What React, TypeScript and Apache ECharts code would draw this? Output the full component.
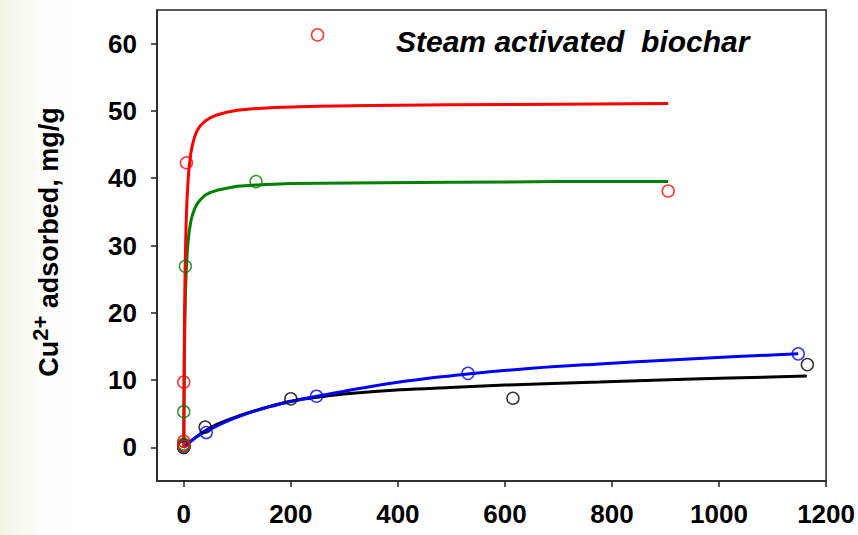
import React, { useEffect, useRef } from "react";
import * as echarts from "echarts";

// Axis ticks
const xTicks = [0, 200, 400, 600, 800, 1000, 1200];
const yTicks = [0, 10, 20, 30, 40, 50, 60];

// Observed data (circles)
const redPointsX = [0, 0, 0, 5, 250, 905];
const redPointsY = [0.2, 0.9, 9.7, 42.3, 61.3, 38.1];
const greenPointsX = [0, 0, 0, 3, 135];
const greenPointsY = [0.1, 0.5, 5.3, 26.9, 39.5];
const blackPointsX = [0, 0, 40, 200, 615, 1165];
const blackPointsY = [0, 0.3, 3.0, 7.2, 7.3, 12.3];
const bluePointsX = [0, 42, 248, 531, 1148];
const bluePointsY = [0, 2.2, 7.6, 11.0, 13.9];

// Fitted curves
const redFitX = [0, 0.5, 1, 1.5, 2, 3, 4, 5, 6, 8, 10, 13, 16, 20, 25, 31, 40, 50, 62, 80, 100, 124, 170, 250, 350, 500, 700, 905];
const redFitY = [0, 8.8, 15.1, 19.7, 23.3, 28.5, 32.1, 34.7, 36.7, 39.6, 41.6, 43.6, 44.9, 46.1, 47.1, 47.8, 48.5, 49.0, 49.4, 49.8, 50.1, 50.3, 50.5, 50.7, 50.8, 50.9, 51.0, 51.1];
const greenFitX = [0, 0.5, 1, 1.5, 2, 3, 4, 5, 6, 8, 10, 13, 16, 20, 25, 31, 40, 50, 62, 80, 100, 135, 200, 310, 500, 700, 905];
const greenFitY = [0, 6.8, 11.7, 15.3, 18.0, 22.1, 24.8, 26.8, 28.4, 30.5, 32.0, 33.5, 34.5, 35.4, 36.2, 36.8, 37.5, 37.9, 38.2, 38.5, 38.8, 39.0, 39.2, 39.3, 39.4, 39.5, 39.5];
const blackFitX = [0, 15, 31, 62, 100, 150, 200, 260, 310, 404, 497, 600, 776, 950, 1164];
const blackFitY = [0, 1.05, 2.0, 3.4, 4.6, 5.85, 6.85, 7.55, 8.0, 8.55, 8.9, 9.25, 9.7, 10.15, 10.6];
const blueFitX = [0, 15, 31, 62, 100, 150, 200, 248, 300, 350, 403, 450, 531, 650, 776, 900, 1024, 1148];
const blueFitY = [0, 1.0, 1.9, 3.2, 4.5, 5.8, 6.8, 7.6, 8.35, 9.05, 9.7, 10.2, 10.9, 11.75, 12.4, 12.95, 13.45, 13.9];

const zip = (xs: number[], ys: number[]) => xs.map((x, i) => [x, ys[i]]);

const FONT = "'Liberation Sans', Arial, Helvetica, sans-serif";

export default function App() {
  const ref = useRef<HTMLDivElement>(null);
  useEffect(() => {
    document.body.style.margin = "0";
    const chart = echarts.init(ref.current!, undefined, { renderer: "svg" });
    const lineS = (name: string, color: string, xs: number[], ys: number[], smooth: number | boolean) => ({
      name,
      type: "line",
      data: zip(xs, ys),
      showSymbol: false,
      smooth,
      lineStyle: { color, width: 3 },
      silent: true,
    });
    const scatterS = (name: string, color: string, xs: number[], ys: number[]) => ({
      name,
      type: "scatter",
      data: zip(xs, ys),
      symbol: "circle",
      symbolSize: 12,
      itemStyle: { color: "rgba(0,0,0,0)", borderColor: color, borderWidth: 1.5 },
      z: 5,
    });
    const labelCommon = {
      fontSize: 26,
      fontWeight: "bold",
      fontFamily: FONT,
      color: "#000",
      margin: 20,
      formatter: (v: number) => String(v),
    };
    const axisCommon = {
      type: "value",
      axisLine: { show: true, onZero: false, lineStyle: { color: "#222", width: 1.5 } },
      axisTick: { show: true, inside: false, length: 6, lineStyle: { color: "#222", width: 1.5 } },
      splitLine: { show: false },
    };
    chart.setOption({
      animation: false,
      backgroundColor: "#fff",
      grid: {
        left: 157,
        top: 10,
        right: 31,
        bottom: 54,
        show: true,
        borderColor: "#222",
        borderWidth: 1.5,
        backgroundColor: "#fff",
      },
      xAxis: {
        ...axisCommon,
        min: -50,
        max: 1200,
        axisTick: { ...axisCommon.axisTick, customValues: xTicks },
        axisLabel: { ...labelCommon, customValues: xTicks },
      },
      yAxis: {
        ...axisCommon,
        min: -5,
        max: 65,
        axisTick: { ...axisCommon.axisTick, customValues: yTicks },
        axisLabel: { ...labelCommon, customValues: yTicks },
      },
      graphic: [
        {
          type: "rect",
          z: -10,
          shape: { x: 0, y: 0, width: 80, height: 535 },
          style: {
            fill: new echarts.graphic.LinearGradient(0, 0, 1, 0, [
              { offset: 0, color: "#f2f4e4" },
              { offset: 1, color: "rgba(255,255,255,0)" },
            ]),
          },
          silent: true,
        },
        {
          type: "text",
          x: 396,
          y: 41,
          style: {
            text: "Steam activated  biochar",
            font: `italic bold 30px ${FONT}`,
            fill: "#000",
            align: "left",
            verticalAlign: "middle",
          },
        },
        {
          type: "text",
          x: 46,
          y: 242,
          rotation: Math.PI / 2,
          style: {
            text: "{b|Cu}{s|2+}{b| adsorbed, mg/g}",
            align: "center",
            verticalAlign: "middle",
            rich: {
              b: { fontSize: 27, fontWeight: "bold", fontFamily: FONT, fill: "#000", verticalAlign: "bottom" },
              s: { fontSize: 22, fontWeight: "bold", fontFamily: FONT, fill: "#000", verticalAlign: "bottom", padding: [0, 0, 11, 0] },
            },
          },
        },
      ],
      series: [
        lineS("blackFit", "#000000", blackFitX, blackFitY, 0.4),
        lineS("blueFit", "#0000ff", blueFitX, blueFitY, 0.4),
        lineS("greenFit", "#008000", greenFitX, greenFitY, false),
        lineS("redFit", "#ff0000", redFitX, redFitY, false),
        scatterS("black", "#000000", blackPointsX, blackPointsY),
        scatterS("blue", "#0000ff", bluePointsX, bluePointsY),
        scatterS("green", "#008000", greenPointsX, greenPointsY),
        scatterS("red", "#ff0000", redPointsX, redPointsY),
      ],
    });
    return () => chart.dispose();
  }, []);
  return (
    <div
      ref={ref}
      style={{ width: 858, height: 535, position: "fixed", left: 0, top: 0 }}
    />
  );
}
